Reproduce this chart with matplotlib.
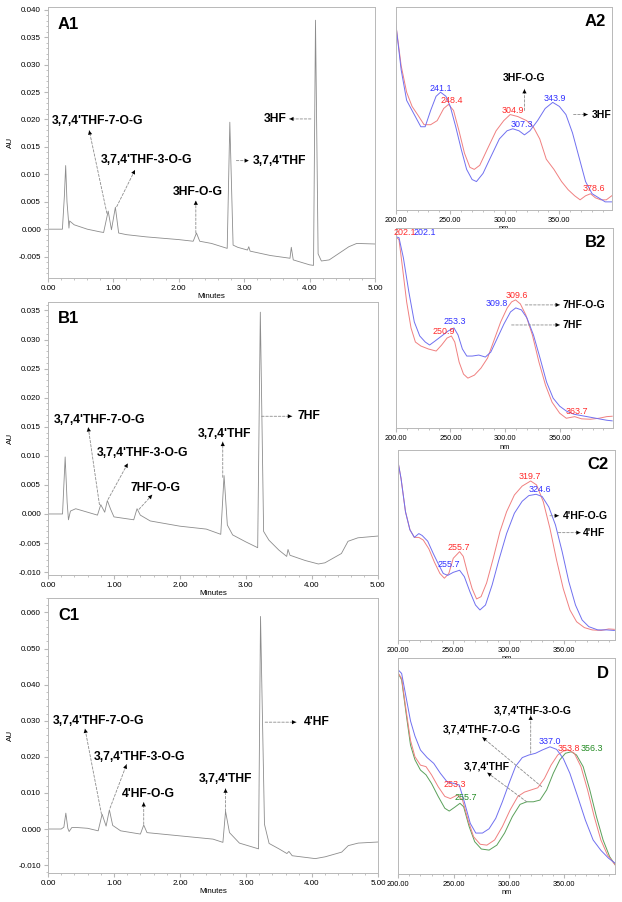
import numpy as np
import matplotlib
matplotlib.use("Agg")
import matplotlib.pyplot as plt
import matplotlib.ticker as ticker

plt.rcParams['font.family'] = ['Liberation Sans', 'DejaVu Sans']

# ---- chromatograms (time in min, absorbance in AU) ----
a1_t = [0.00, 0.22, 0.25, 0.27, 0.29, 0.31, 0.32, 0.33, 0.40, 0.60, 0.80, 0.85, 0.92, 0.97, 1.03, 1.08,
        1.20, 1.50, 2.00, 2.22, 2.27, 2.32, 2.50, 2.74, 2.78, 2.83, 2.90, 3.05, 3.07, 3.09, 3.40, 3.70,
        3.72, 3.75, 4.00, 4.06, 4.09, 4.13, 4.18, 4.30, 4.45, 4.60, 4.72, 5.00]
a1_au = [0.0, 0.0, 0.006, 0.0116, 0.005, 0.0020, 0.0002, 0.0015, 0.0008, 0.0, -0.0005, -0.0006, 0.0033,
         -0.0001, 0.0040, -0.0007, -0.0010, -0.0014, -0.0019, -0.0022, -0.0007, -0.0022, -0.0026, -0.0035,
         0.0195, -0.0029, -0.0033, -0.0038, -0.0032, -0.0040, -0.0048, -0.0053, -0.0033, -0.0056, -0.0065,
         -0.0066, 0.0381, -0.0045, -0.0058, -0.0056, -0.0044, -0.0032, -0.0026, -0.0027]

b1_t = [0.00, 0.22, 0.26, 0.29, 0.31, 0.34, 0.42, 0.60, 0.75, 0.80, 0.86, 0.90, 0.95, 1.00, 1.30, 1.35,
        1.40, 1.55, 2.00, 2.40, 2.62, 2.67, 2.72, 2.80, 3.00, 3.18, 3.22, 3.27, 3.35, 3.50, 3.62, 3.64,
        3.67, 3.90, 4.10, 4.20, 4.45, 4.55, 4.70, 5.00]
b1_au = [0.0, 0.0, 0.0098, 0.002, -0.001, 0.0005, 0.0009, 0.0003, -0.0002, 0.0016, 0.0003, 0.0023, 0.0008,
         -0.0005, -0.0010, 0.0009, -0.0002, -0.0012, -0.0021, -0.0026, -0.0035, 0.0066, -0.0019, -0.0036,
         -0.0048, -0.0058, 0.0347, -0.0030, -0.0045, -0.0062, -0.0073, -0.0061, -0.0071, -0.0080, -0.0086,
         -0.0084, -0.0068, -0.0047, -0.0041, -0.0038]

c1_t = [0.00, 0.20, 0.24, 0.27, 0.30, 0.32, 0.36, 0.45, 0.60, 0.76, 0.82, 0.88, 0.93, 0.98, 1.10, 1.40,
        1.45, 1.50, 2.00, 2.50, 2.65, 2.69, 2.75, 2.90, 3.19, 3.22, 3.28, 3.35, 3.50, 3.62, 3.65, 3.70,
        4.05, 4.20, 4.45, 4.55, 4.70, 5.00]
c1_au = [0.0, 0.0, 0.0005, 0.0044, 0.0002, -0.0007, 0.0004, 0.0004, 0.0002, -0.0005, 0.0041, 0.0008,
         0.0053, 0.0010, -0.0005, -0.0014, 0.0011, -0.0010, -0.0019, -0.0028, -0.0037, 0.0049, -0.0010,
         -0.0039, -0.0055, 0.0589, 0.0013, -0.0040, -0.0055, -0.0068, -0.0062, -0.0074, -0.0082, -0.0077,
         -0.0064, -0.0046, -0.0039, -0.0036]

# ---- UV spectra (nm, relative absorbance) ----
a2_blue_nm = [200, 205, 210, 215, 220, 223, 227, 232, 237, 241.1, 246, 250, 255, 260, 265, 270, 274, 280,
              287, 295, 302, 307.3, 313, 318, 323, 330, 337, 343.9, 350, 356, 362, 368, 374, 380, 386, 392, 398]
a2_blue = [0.92, 0.69, 0.54, 0.49, 0.44, 0.41, 0.41, 0.49, 0.56, 0.58, 0.56, 0.51, 0.41, 0.30, 0.20, 0.15,
           0.14, 0.18, 0.26, 0.35, 0.39, 0.40, 0.39, 0.37, 0.39, 0.44, 0.50, 0.53, 0.51, 0.47, 0.38, 0.26,
           0.14, 0.08, 0.06, 0.04, 0.04]
a2_red_nm = [200, 205, 210, 215, 220, 226, 232, 238, 244, 248.4, 253, 258, 263, 268, 272, 277, 284, 292,
             299, 304.9, 312, 320, 326, 332, 338, 345, 352, 358, 364, 369, 374, 378.6, 383, 388, 393, 398]
a2_red = [0.92, 0.71, 0.58, 0.51, 0.47, 0.42, 0.42, 0.44, 0.50, 0.52, 0.49, 0.39, 0.28, 0.21, 0.20, 0.22,
          0.30, 0.39, 0.44, 0.47, 0.46, 0.44, 0.41, 0.35, 0.25, 0.20, 0.14, 0.10, 0.07, 0.05, 0.07, 0.08,
          0.06, 0.05, 0.05, 0.07]

b2_blue_nm = [200, 203, 207, 212, 217, 222, 227, 231, 236, 242, 248, 253.3, 257, 261, 265, 270, 276, 282,
              287, 293, 299, 305, 309.8, 315, 320, 326, 332, 338, 344, 350, 356, 363, 370, 378, 386, 393, 398]
b2_blue = [0.955, 0.95, 0.85, 0.68, 0.53, 0.46, 0.43, 0.415, 0.435, 0.46, 0.485, 0.50, 0.465, 0.395, 0.36,
           0.36, 0.365, 0.355, 0.38, 0.45, 0.52, 0.58, 0.60, 0.59, 0.55, 0.465, 0.35, 0.23, 0.15, 0.11,
           0.086, 0.07, 0.063, 0.055, 0.047, 0.04, 0.037]
b2_red_nm = [200, 203, 206, 210, 214, 218, 223, 230, 237, 242, 247, 250.9, 254, 258, 262, 266, 272, 278,
             284, 290, 296, 302, 306, 309.6, 314, 319, 325, 331, 337, 343, 350, 356, 363.7, 370, 378, 386,
             393, 398]
b2_red = [0.955, 0.94, 0.81, 0.63, 0.50, 0.43, 0.41, 0.395, 0.385, 0.415, 0.45, 0.46, 0.43, 0.33, 0.27,
          0.25, 0.265, 0.30, 0.35, 0.44, 0.53, 0.60, 0.63, 0.64, 0.62, 0.565, 0.465, 0.33, 0.215, 0.13,
          0.075, 0.05, 0.058, 0.047, 0.045, 0.05, 0.058, 0.06]

c2_blue_nm = [200, 203, 207, 211, 215, 219, 222, 227, 232, 237, 241, 245, 250, 255.7, 260, 265, 270, 274,
              279, 285, 291, 298, 305, 312, 318, 324.6, 330, 336, 342, 348, 354, 360, 366, 372, 380, 388, 395]
c2_blue = [0.947, 0.85, 0.675, 0.58, 0.54, 0.56, 0.55, 0.52, 0.455, 0.395, 0.35, 0.34, 0.356, 0.367, 0.333,
           0.254, 0.184, 0.158, 0.184, 0.29, 0.42, 0.56, 0.667, 0.73, 0.76, 0.767, 0.755, 0.70, 0.605,
           0.465, 0.307, 0.184, 0.105, 0.07, 0.053, 0.053, 0.05]
c2_red_nm = [200, 203, 207, 211, 215, 219, 223, 228, 233, 238, 242, 246, 250, 255.7, 259, 263, 267, 271,
             275, 280, 286, 292, 298, 305, 312, 319.7, 325, 331, 337, 343, 349, 355, 361, 368, 375, 383, 390, 395]
c2_red = [0.947, 0.85, 0.675, 0.58, 0.54, 0.54, 0.526, 0.48, 0.41, 0.35, 0.325, 0.35, 0.43, 0.465, 0.44,
          0.35, 0.27, 0.216, 0.228, 0.30, 0.43, 0.57, 0.675, 0.763, 0.81, 0.837, 0.816, 0.728, 0.588, 0.42,
          0.27, 0.158, 0.096, 0.065, 0.053, 0.05, 0.058, 0.056]

d_blue_nm = [200, 203, 207, 211, 215, 220, 226, 232, 238, 244, 250, 255, 260, 265, 270, 276, 282, 288, 294,
             300, 306, 312, 318, 324, 330, 337, 343, 349, 355, 362, 369, 376, 383, 390, 396]
d_blue = [0.946, 0.93, 0.82, 0.71, 0.64, 0.575, 0.54, 0.513, 0.467, 0.428, 0.42, 0.413, 0.328, 0.235, 0.19,
          0.19, 0.21, 0.258, 0.335, 0.42, 0.50, 0.54, 0.552, 0.56, 0.575, 0.59, 0.578, 0.536, 0.467, 0.36,
          0.25, 0.158, 0.11, 0.073, 0.05]
d_red_nm = [200, 203, 207, 211, 215, 220, 225, 230, 236, 242, 247, 253.3, 258, 263, 268, 274, 280, 287, 294,
            301, 308, 314, 320, 326, 332, 338, 344, 349, 353.8, 359, 365, 371, 377, 383, 389, 396]
d_red = [0.93, 0.907, 0.76, 0.62, 0.544, 0.505, 0.498, 0.46, 0.405, 0.36, 0.35, 0.366, 0.343, 0.25, 0.173,
         0.138, 0.134, 0.158, 0.22, 0.297, 0.36, 0.38, 0.39, 0.40, 0.443, 0.505, 0.552, 0.57, 0.575, 0.56,
         0.498, 0.39, 0.266, 0.158, 0.088, 0.042]
d_green_nm = [200, 203, 207, 211, 215, 220, 225, 230, 236, 242, 246, 251, 255.7, 259, 264, 269, 275, 282,
              289, 296, 303, 310, 316, 322, 328, 334, 340, 346, 351, 356.3, 361, 367, 373, 379, 385, 391, 396]
d_green = [0.93, 0.90, 0.745, 0.598, 0.53, 0.482, 0.46, 0.42, 0.36, 0.305, 0.292, 0.31, 0.328, 0.312, 0.22,
           0.15, 0.116, 0.111, 0.134, 0.19, 0.266, 0.323, 0.335, 0.335, 0.343, 0.39, 0.467, 0.53, 0.56,
           0.567, 0.552, 0.498, 0.39, 0.266, 0.158, 0.08, 0.042]

BLUE_LINE, RED_LINE, GREEN_LINE = '#7070f0', '#f08080', '#5aa05a'
BLUE_TXT, RED_TXT, GREEN_TXT = '#3030ff', '#ff2a2a', '#228a22'
FRAME = '#b8b8b8'

fig = plt.figure(figsize=(6.22, 9.02), dpi=100)


def chrom_axes(rect, t, au, ylim, ymaj, ymin, title):
    ax = fig.add_axes(rect)
    ax.plot(t, au, color='#8c8c8c', lw=0.6)
    ax.set_xlim(0, 5)
    ax.set_ylim(*ylim)
    ax.xaxis.set_major_locator(ticker.MultipleLocator(1))
    ax.xaxis.set_minor_locator(ticker.MultipleLocator(0.2))
    ax.yaxis.set_major_locator(ticker.MultipleLocator(ymaj))
    ax.yaxis.set_minor_locator(ticker.MultipleLocator(ymin))
    ax.xaxis.set_major_formatter(ticker.FormatStrFormatter('%.2f'))
    ax.yaxis.set_major_formatter(ticker.FormatStrFormatter('%.3f'))
    ax.tick_params(which='both', direction='out', color=FRAME, labelsize=5.8, pad=2)
    ax.tick_params(which='major', length=3)
    ax.tick_params(which='minor', length=1.5)
    for s in ax.spines.values():
        s.set_color(FRAME)
        s.set_linewidth(0.7)
    ax.set_xlabel('Minutes', fontsize=5.8, labelpad=1)
    ax.set_ylabel('AU', fontsize=5.8, labelpad=3)
    ax.text(0.03, 0.965, title, transform=ax.transAxes, fontsize=12, fontweight='bold', va='top')
    return ax


def spec_axes(rect, xmax, title):
    ax = fig.add_axes(rect)
    ax.set_xlim(200, xmax)
    ax.set_ylim(0, 1)
    ax.xaxis.set_major_locator(ticker.MultipleLocator(50))
    ax.xaxis.set_minor_locator(ticker.MultipleLocator(10))
    ax.xaxis.set_major_formatter(ticker.FormatStrFormatter('%.2f'))
    ax.set_yticks([])
    ax.tick_params(which='both', direction='out', color=FRAME, labelsize=5.3, pad=2)
    ax.tick_params(which='major', length=3)
    ax.tick_params(which='minor', length=1.5)
    for s in ax.spines.values():
        s.set_color(FRAME)
        s.set_linewidth(0.7)
    ax.set_xlabel('nm', fontsize=5.3, labelpad=1)
    ax.text(0.97, 0.965, title, transform=ax.transAxes, fontsize=12, fontweight='bold', va='top', ha='right')
    return ax


def label(ax, txt, x, y, tail, head, ha='left', fs=8.7):
    ax.text(x, y, txt, fontsize=fs, fontweight='bold', ha=ha, va='center')
    # dashed grey leader line
    ax.annotate('', xy=head, xytext=tail,
                arrowprops=dict(arrowstyle='-', color='#8c8c8c', lw=0.6, ls=(0, (3, 2)),
                                shrinkA=0, shrinkB=0))
    # small black head at the label end
    back = (head[0] - 0.15 * (head[0] - tail[0]), head[1] - 0.15 * (head[1] - tail[1]))
    ax.annotate('', xy=head, xytext=back,
                arrowprops=dict(arrowstyle='-|>,head_length=0.5,head_width=0.25', color='black', lw=0.01,
                                mutation_scale=6, shrinkA=0, shrinkB=0))


def num(ax, txt, x, y, color):
    ax.text(x, y, txt, fontsize=6.4, color=color, ha='center', va='center')


# A1
ax = chrom_axes([0.0772, 0.6918, 0.5257, 0.3004], a1_t, a1_au, (-0.0089, 0.0405), 0.005, 0.001, 'A1')
label(ax, "3,7,4'THF-7-O-G", 0.06, 0.0198, (0.90, 0.0029), (0.63, 0.0180))
label(ax, "3,7,4'THF-3-O-G", 0.80, 0.0126, (1.05, 0.0041), (1.33, 0.0108))
label(ax, "3HF-O-G", 1.90, 0.0067, (2.26, -0.0007), (2.26, 0.0052))
label(ax, "3,7,4'THF", 3.13, 0.0125, (2.88, 0.0125), (3.07, 0.0125))
label(ax, "3HF", 3.65, 0.0201, (4.02, 0.0201), (3.69, 0.0201), ha='right')

# B1
ax = chrom_axes([0.0772, 0.3625, 0.530, 0.303], b1_t, b1_au, (-0.0105, 0.0365), 0.005, 0.001, 'B1')
label(ax, "3,7,4'THF-7-O-G", 0.085, 0.0162, (0.78, 0.0016), (0.61, 0.0149))
label(ax, "3,7,4'THF-3-O-G", 0.74, 0.0104, (0.91, 0.0025), (1.21, 0.0087))
label(ax, "7HF-O-G", 1.25, 0.0045, (1.38, 0.0008), (1.58, 0.0033))
label(ax, "3,7,4'THF", 2.27, 0.0137, (2.65, 0.0063), (2.65, 0.0124))
label(ax, "7HF", 3.78, 0.0168, (3.24, 0.0168), (3.70, 0.0168))

# C1
ax = chrom_axes([0.0772, 0.0325, 0.5305, 0.3045], c1_t, c1_au, (-0.0121, 0.0640), 0.010, 0.002, 'C1')
label(ax, "3,7,4'THF-7-O-G", 0.07, 0.0298, (0.81, 0.0041), (0.56, 0.0278))
label(ax, "3,7,4'THF-3-O-G", 0.69, 0.0199, (0.94, 0.0058), (1.19, 0.0179))
label(ax, "4'HF-O-G", 1.12, 0.0098, (1.45, 0.0013), (1.45, 0.0074))
label(ax, "3,7,4'THF", 2.29, 0.0139, (2.69, 0.0049), (2.69, 0.0112))
label(ax, "4'HF", 3.88, 0.0296, (3.29, 0.0296), (3.76, 0.0296))

# A2
ax = spec_axes([0.6362, 0.7672, 0.3482, 0.2251], 398.5, 'A2')
ax.plot(a2_red_nm, a2_red, color=RED_LINE, lw=0.7)
ax.plot(a2_blue_nm, a2_blue, color=BLUE_LINE, lw=0.7)
num(ax, '241.1', 241.5, 0.60, BLUE_TXT)
num(ax, '248.4', 251, 0.54, RED_TXT)
num(ax, '304.9', 307, 0.49, RED_TXT)
num(ax, '307.3', 315.5, 0.42, BLUE_TXT)
num(ax, '343.9', 346, 0.55, BLUE_TXT)
num(ax, '378.6', 381.8, 0.105, RED_TXT)
label(ax, "3HF-O-G", 318, 0.65, (318, 0.49), (318, 0.595), ha='center', fs=7.5)
label(ax, "3HF", 380, 0.47, (363, 0.47), (376, 0.47), fs=7.5)

# B2
ax = spec_axes([0.6362, 0.5252, 0.3489, 0.2224], 398.5, 'B2')
ax.plot(b2_red_nm, b2_red, color=RED_LINE, lw=0.7)
ax.plot(b2_blue_nm, b2_blue, color=BLUE_LINE, lw=0.7)
num(ax, '202.1', 208, 0.975, RED_TXT)
num(ax, '202.1', 227, 0.975, BLUE_TXT)
num(ax, '309.6', 311, 0.66, RED_TXT)
num(ax, '309.8', 292, 0.62, BLUE_TXT)
num(ax, '253.3', 254, 0.53, BLUE_TXT)
num(ax, '250.9', 244, 0.48, RED_TXT)
num(ax, '363.7', 366, 0.083, RED_TXT)
label(ax, "7HF-O-G", 353, 0.615, (318.5, 0.615), (350, 0.615), fs=7.5)
label(ax, "7HF", 353, 0.515, (306, 0.515), (350, 0.515), fs=7.5)

# C2
ax = spec_axes([0.6394, 0.2905, 0.3494, 0.2106], 395.6, 'C2')
ax.plot(c2_red_nm, c2_red, color=RED_LINE, lw=0.7)
ax.plot(c2_blue_nm, c2_blue, color=BLUE_LINE, lw=0.7)
num(ax, '319.7', 318.5, 0.86, RED_TXT)
num(ax, '324.6', 328, 0.79, BLUE_TXT)
num(ax, '255.7', 255, 0.486, RED_TXT)
num(ax, '255.7', 245.6, 0.395, BLUE_TXT)
label(ax, "4'HF-O-G", 348.5, 0.654, (337, 0.654), (345, 0.654), fs=7.5)
label(ax, "4'HF", 367, 0.565, (344.6, 0.565), (364.5, 0.565), fs=7.5)

# D
ax = spec_axes([0.6404, 0.0310, 0.3484, 0.2391], 395.8, 'D')
ax.plot(d_green_nm, d_green, color=GREEN_LINE, lw=0.7)
ax.plot(d_red_nm, d_red, color=RED_LINE, lw=0.7)
ax.plot(d_blue_nm, d_blue, color=BLUE_LINE, lw=0.7)
num(ax, '337.0', 336.5, 0.614, BLUE_TXT)
num(ax, '353.8', 354.5, 0.58, RED_TXT)
num(ax, '356.3', 374.7, 0.58, GREEN_TXT)
num(ax, '253.3', 250.6, 0.413, RED_TXT)
num(ax, '255.7', 261, 0.354, GREEN_TXT)
label(ax, "3,7,4'THF-3-O-G", 321, 0.76, (319.6, 0.56), (319.6, 0.734), ha='center', fs=7.5)
label(ax, "3,7,4'THF-7-O-G", 240, 0.668, (329.5, 0.405), (276, 0.634), fs=7.5)
label(ax, "3,7,4'THF", 258.7, 0.498, (316, 0.335), (280.4, 0.47), fs=7.5)

fig.savefig('out.png', dpi=100)
